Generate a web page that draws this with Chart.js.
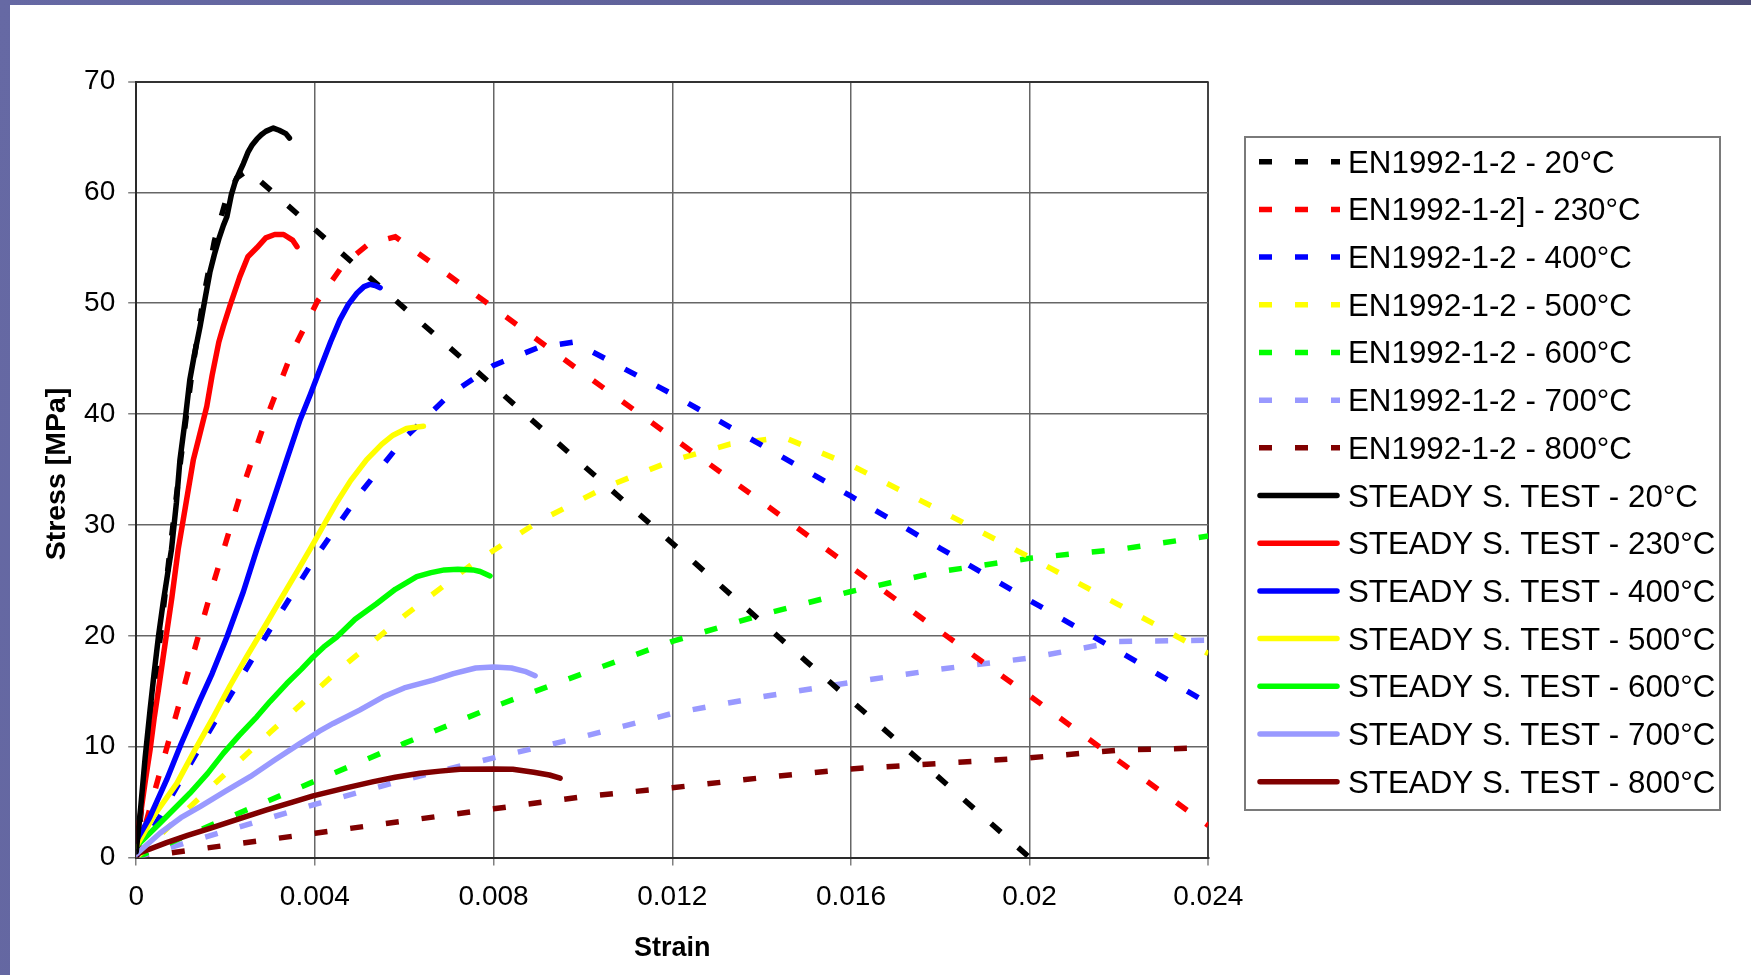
<!DOCTYPE html>
<html>
<head>
<meta charset="utf-8">
<script src="https://cdn.jsdelivr.net/npm/chart.js@4.4.1/dist/chart.umd.min.js"></script>
<style>
  html, body { margin: 0; padding: 0; }
  body {
    width: 1751px; height: 975px; overflow: hidden; position: relative;
    background: linear-gradient(100deg, #6669a4 0%, #5e6098 45%, #4b4b72 100%);
  }
  #frame { position: absolute; left: 10px; top: 5px; width: 1741px; height: 970px; background: #ffffff; }
</style>
</head>
<body>
<div id="frame"><canvas id="chart"></canvas></div>
<script>
// Stress-strain curves of concrete: EN1992-1-2 model vs steady state tests
// Each series is a list of [strain, stress (MPa)] pairs.

const en20 = [[0,0],[0.00025,9.3],[0.0005,18.5],[0.00075,27.5],[0.001,36.0],[0.00125,43.8],[0.0015,50.4],[0.00175,55.6],[0.002,59.2],[0.00225,61.3],[0.0025,62.0],[0.005,53.1],[0.0075,44.3],[0.01,35.4],[0.0125,26.6],[0.015,17.7],[0.0175,8.9],[0.02,0]];
const en230 = [[0,0],[0.00058,8.4],[0.00116,16.7],[0.00174,24.9],[0.00232,32.6],[0.0029,39.5],[0.00348,45.5],[0.00406,50.2],[0.00464,53.5],[0.00522,55.4],[0.0058,56.0],[0.008,49.6],[0.01,43.7],[0.012,37.9],[0.014,32.1],[0.016,26.2],[0.018,20.4],[0.02,14.6],[0.022,8.7],[0.024,2.9]];
const en400 = [[0,0],[0.001,7.0],[0.002,13.9],[0.003,20.6],[0.004,27.0],[0.005,32.8],[0.006,37.8],[0.007,41.7],[0.008,44.4],[0.009,46.0],[0.0098,46.5],[0.012,41.8],[0.014,37.2],[0.016,32.6],[0.018,27.9],[0.02,23.2],[0.022,18.6],[0.024,13.9]];
const en500 = [[0,0],[0.0015,5.7],[0.003,11.3],[0.0045,16.8],[0.006,21.8],[0.0075,26.4],[0.009,30.3],[0.0105,33.4],[0.012,35.8],[0.0133,37.3],[0.0145,37.9],[0.016,35.4],[0.018,31.3],[0.02,27.1],[0.022,22.8],[0.024,18.4]];
const en600 = [[0,0],[0.002,3.5],[0.004,6.9],[0.006,10.3],[0.008,13.6],[0.01,16.6],[0.012,19.5],[0.014,21.9],[0.016,24.0],[0.018,25.8],[0.02,27.0],[0.022,27.8],[0.024,29.0]];
const en700 = [[0,0],[0.002,2.4],[0.004,4.8],[0.006,7.0],[0.008,9.0],[0.01,10.9],[0.012,13.0],[0.014,14.5],[0.016,15.8],[0.018,17.0],[0.02,18.0],[0.022,19.5],[0.024,19.6]];
const en800 = [[0,0],[0.002,1.1],[0.004,2.2],[0.006,3.3],[0.008,4.4],[0.01,5.5],[0.012,6.3],[0.014,7.2],[0.016,8.0],[0.018,8.5],[0.02,9.0],[0.022,9.7],[0.024,9.9]];

const test20 = [[0,0.5],[0.0001,4.5],[0.0002,9.0],[0.00031,13.3],[0.0004,16.6],[0.0005,20.0],[0.0006,22.9],[0.0007,25.5],[0.00079,27.8],[0.0009,32.0],[0.00098,35.9],[0.0011,39.6],[0.0012,43.1],[0.0013,45.3],[0.00143,47.9],[0.00155,50.6],[0.00165,52.8],[0.00175,54.4],[0.00185,55.8],[0.00195,57.0],[0.00203,57.8],[0.00213,59.8],[0.00222,61.0],[0.00232,61.9],[0.0024,62.6],[0.0025,63.6],[0.0026,64.3],[0.0027,64.8],[0.0028,65.2],[0.0029,65.5],[0.00307,65.8],[0.0032,65.6],[0.00335,65.3],[0.00343,64.9]];
const test230 = [[0,1.5],[0.0001,4.0],[0.0002,6.8],[0.00031,9.7],[0.0004,12.5],[0.0005,15.2],[0.0006,18.0],[0.00068,20.2],[0.0008,23.5],[0.00094,27.8],[0.0011,31.6],[0.00128,35.9],[0.0014,37.8],[0.00158,40.7],[0.0017,43.5],[0.00185,46.5],[0.00195,47.9],[0.0021,49.8],[0.00232,52.4],[0.0025,54.2],[0.0027,55.0],[0.0029,55.9],[0.0031,56.2],[0.0033,56.2],[0.0035,55.7],[0.0036,55.1]];
const test400 = [[0,1.5],[0.0003,3.6],[0.00068,7.0],[0.001,10.2],[0.00143,14.2],[0.0017,16.6],[0.00203,19.9],[0.0024,24.0],[0.0027,27.8],[0.003,31.4],[0.00337,35.9],[0.00367,39.5],[0.0039,41.8],[0.00411,44.0],[0.00435,46.5],[0.00456,48.5],[0.00475,49.9],[0.00494,50.9],[0.0051,51.5],[0.00523,51.7],[0.00535,51.6],[0.00546,51.4]];
const test500 = [[0,1.0],[0.0004,3.8],[0.00091,6.7],[0.0013,9.6],[0.00173,12.7],[0.0021,15.5],[0.00247,18.1],[0.0029,21.0],[0.00322,23.2],[0.0036,25.8],[0.00389,27.8],[0.0042,30.0],[0.0045,32.1],[0.0048,34.0],[0.00516,35.9],[0.0055,37.3],[0.00575,38.1],[0.00605,38.7],[0.0062,38.8],[0.00643,38.9]];
const test600 = [[0,1.0],[0.00053,3.1],[0.0012,5.8],[0.0016,7.6],[0.00195,9.4],[0.0023,11.0],[0.0027,12.7],[0.003,14.1],[0.00337,15.7],[0.0037,17.0],[0.00396,18.1],[0.0042,19.0],[0.00449,19.9],[0.0049,21.5],[0.00538,22.9],[0.0058,24.2],[0.00628,25.35],[0.0066,25.7],[0.0069,25.95],[0.0072,26.0],[0.00754,25.95],[0.0077,25.8],[0.00792,25.4]];
const test700 = [[0,0.3],[0.00053,2.2],[0.001,3.6],[0.00143,4.6],[0.002,6.0],[0.00255,7.3],[0.0031,8.8],[0.00367,10.3],[0.0041,11.4],[0.00441,12.1],[0.005,13.3],[0.00553,14.5],[0.006,15.3],[0.00665,16.0],[0.0071,16.6],[0.0076,17.1],[0.008,17.2],[0.0084,17.1],[0.0087,16.8],[0.00893,16.4]];
const test800 = [[0,0.3],[0.00068,1.35],[0.00115,2.0],[0.00165,2.64],[0.0023,3.5],[0.00292,4.3],[0.0035,5.0],[0.00396,5.56],[0.0046,6.2],[0.00531,6.85],[0.0058,7.25],[0.00635,7.6],[0.0068,7.8],[0.00725,7.97],[0.008,8.0],[0.00843,7.97],[0.0089,7.7],[0.00925,7.45],[0.00949,7.16]];

const modelLabels = ['EN1992-1-2 - 20°C','EN1992-1-2] - 230°C','EN1992-1-2 - 400°C','EN1992-1-2 - 500°C','EN1992-1-2 - 600°C','EN1992-1-2 - 700°C','EN1992-1-2 - 800°C'];
const testLabels = ['STEADY S. TEST - 20°C','STEADY S. TEST - 230°C','STEADY S. TEST - 400°C','STEADY S. TEST - 500°C','STEADY S. TEST - 600°C','STEADY S. TEST - 700°C','STEADY S. TEST - 800°C'];
const modelSeries = [en20, en230, en400, en500, en600, en700, en800];
const testSeries = [test20, test230, test400, test500, test600, test700, test800];

const xTickValues = [0, 0.004, 0.008, 0.012, 0.016, 0.02, 0.024];
const xTickLabels = ['0', '0.004', '0.008', '0.012', '0.016', '0.02', '0.024'];
const yTickValues = [0, 10, 20, 30, 40, 50, 60, 70];
const yTickLabels = ['0', '10', '20', '30', '40', '50', '60', '70'];
const xTitle = 'Strain';
const yTitle = 'Stress [MPa]';

// Series colours (one per temperature)
const palette = ['#000000', '#ff0000', '#0000ff', '#ffff00', '#00ff00', '#9999ff', '#800000'];
const DASH = [13, 23];
const LINE_W = 5.5;
const FONT = '"Liberation Sans", Arial, Helvetica, sans-serif';

const toPoints = s => s.map(p => ({ x: p[0], y: p[1] }));

const datasets = [];
modelSeries.forEach((s, i) => datasets.push({
  label: modelLabels[i], data: toPoints(s), borderColor: palette[i], backgroundColor: palette[i],
  borderWidth: LINE_W, borderDash: DASH, borderCapStyle: 'butt', borderJoinStyle: 'miter',
  pointRadius: 0, fill: false, order: 1
}));
testSeries.forEach((s, i) => datasets.push({
  label: testLabels[i], data: toPoints(s), borderColor: palette[i], backgroundColor: palette[i],
  borderWidth: LINE_W, borderDash: [], borderCapStyle: 'round', borderJoinStyle: 'round',
  pointRadius: 0, fill: false, order: 0
}));

// Axis titles and the boxed legend on the right
const decorations = {
  id: 'decorations',
  afterDraw(chart) {
    const ctx = chart.ctx;
    const area = chart.chartArea;
    ctx.save();
    ctx.fillStyle = '#000';

    ctx.font = 'bold 27px ' + FONT;
    ctx.textAlign = 'center';
    ctx.textBaseline = 'alphabetic';
    ctx.fillText(xTitle, (area.left + area.right) / 2, 950.5);

    ctx.save();
    ctx.font = 'bold 28.5px ' + FONT;
    ctx.translate(55, 469);
    ctx.rotate(-Math.PI / 2);
    ctx.fillText(yTitle, 0, 0);
    ctx.restore();

    // legend frame
    const box = { left: 1235, top: 132, right: 1710, bottom: 805 };
    ctx.strokeStyle = '#7a7a7a';
    ctx.lineWidth = 2;
    ctx.setLineDash([]);
    ctx.strokeRect(box.left, box.top, box.right - box.left, box.bottom - box.top);

    const rowTop = 156.7, rowStep = 47.69;
    ctx.font = '31.3px ' + FONT;
    ctx.textAlign = 'left';
    chart.data.datasets.forEach((ds, i) => {
      const y = rowTop + i * rowStep;
      ctx.strokeStyle = ds.borderColor;
      ctx.lineWidth = ds.borderWidth;
      ctx.beginPath();
      if (ds.borderDash.length) {
        ctx.setLineDash(ds.borderDash);
        ctx.lineCap = 'butt';
        ctx.moveTo(1249, y); ctx.lineTo(1330, y);
      } else {
        ctx.setLineDash([]);
        ctx.lineCap = 'round';
        ctx.moveTo(1250, y); ctx.lineTo(1327, y);
      }
      ctx.stroke();
      ctx.setLineDash([]);
      ctx.fillStyle = '#000';
      ctx.fillText(ds.label, 1338, y + 11);
    });
    ctx.restore();
  }
};

new Chart(document.getElementById('chart'), {
  type: 'line',
  data: { datasets },
  plugins: [decorations],
  options: {
    responsive: true,
    maintainAspectRatio: false,
    animation: false,
    devicePixelRatio: 1,
    layout: { padding: { top: 76.5, right: 542.7, bottom: 0, left: 0 } },
    plugins: { legend: { display: false }, tooltip: { enabled: false } },
    elements: { line: { tension: 0 }, point: { radius: 0 } },
    scales: {
      x: {
        type: 'linear', min: 0, max: 0.024,
        afterFit: s => { s.height = 117.4; },
        afterBuildTicks: s => { s.ticks = xTickValues.map(v => ({ value: v })); },
        ticks: {
          callback: (v, i) => xTickLabels[i], autoSkip: false, maxRotation: 0,
          color: '#000', padding: 15, font: { family: FONT, size: 28 }
        },
        grid: {
          color: c => (c.tick && c.tick.value === 0.024) ? '#444444' : '#666666',
          lineWidth: c => (c.tick && c.tick.value === 0.024) ? 2 : 1.5,
          tickLength: 8, tickColor: '#808080', tickWidth: 1.5
        },
        border: { color: '#2a2a2a', width: 2 }
      },
      y: {
        type: 'linear', min: 0, max: 70,
        afterFit: s => { s.width = 126.2; },
        afterBuildTicks: s => { s.ticks = yTickValues.map(v => ({ value: v })); },
        ticks: {
          callback: (v, i) => yTickLabels[i], autoSkip: false,
          color: '#000', padding: 13, font: { family: FONT, size: 28 }
        },
        grid: {
          color: c => (c.tick && c.tick.value === 70) ? '#333333' : '#666666',
          lineWidth: c => (c.tick && c.tick.value === 70) ? 2 : 1.5,
          tickLength: 8, tickColor: '#808080', tickWidth: 1.5
        },
        border: { color: '#2a2a2a', width: 2 }
      }
    }
  }
});
</script>
</body>
</html>
